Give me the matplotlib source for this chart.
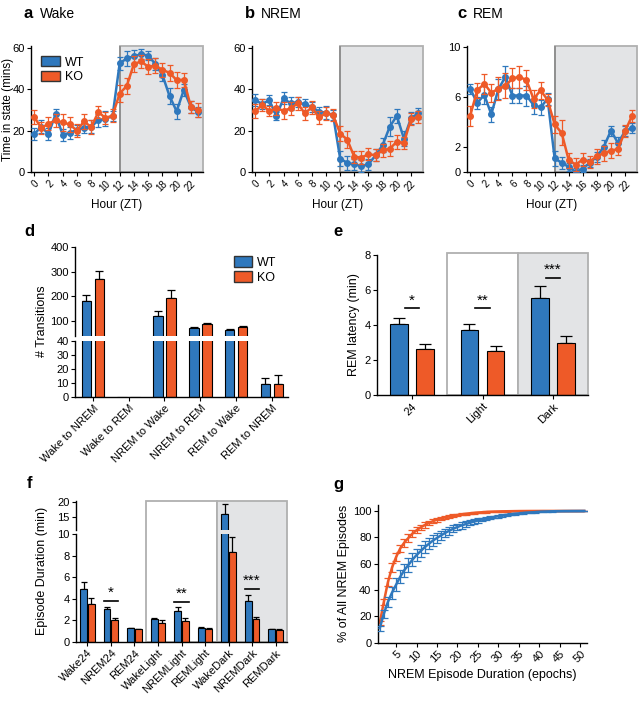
import numpy as np
import matplotlib
matplotlib.use('Agg')
import matplotlib.pyplot as plt
from matplotlib.patches import Rectangle, Patch

plt.rcParams['font.family'] = ['Liberation Sans', 'DejaVu Sans']
plt.rcParams['font.size'] = 8
plt.rcParams['axes.linewidth'] = 1.0
plt.rcParams['xtick.major.size'] = 3
plt.rcParams['ytick.major.size'] = 3
plt.rcParams['xtick.major.pad'] = 1.5
plt.rcParams['ytick.major.pad'] = 1.5

BLUE = '#2f78bd'
ORANGE = '#ee5a28'
DARK = '#e3e4e6'
EDGE = '#b0b0b0'

# ---- data -----------------------------------------------------------------
hours = list(range(24))

wake_wt = [18.3, 22, 18.3, 28, 18, 19, 20.4, 21.3, 22, 25, 25.8, 27,
           52.6, 55, 56, 57, 56.4, 52.3, 47, 36.8, 29.4, 39.7, 31.5, 29]
wake_wt_err = [3, 3, 3, 2.5, 3, 3, 2.5, 2.5, 3, 3, 3.5, 2.5,
               3, 3.5, 3, 2.5, 2, 3, 3, 4, 3.5, 3, 3, 2.5]
wake_ko = [26.6, 21.3, 23.4, 25, 24, 23, 20, 24.5, 21.7, 29, 26.2, 27.3,
           38, 41.7, 52.3, 53.5, 51, 51.5, 49.5, 48, 44.5, 44.6, 31.5, 30]
wake_ko_err = [3.5, 3, 3, 3, 4, 3.5, 3, 3.5, 3.5, 3, 3, 3,
               4, 4, 4, 3, 3.5, 3.5, 3.5, 4, 4, 3.5, 3, 3.5]

nrem_wt = [34.8, 32.9, 34.8, 27, 35.7, 33.2, 33.9, 32.7, 31.6, 29.2, 28.8, 27.6,
           6.5, 4.4, 3.7, 2.9, 3.7, 8.1, 13, 21.9, 27.2, 16.2, 26, 28.4]
nrem_wt_err = [3, 2.5, 2.5, 2, 3, 3, 2.5, 2.5, 2.5, 2.5, 3, 2.5,
               3.5, 3.5, 2.5, 3, 2.5, 3, 3.5, 4.5, 3.5, 3.5, 3, 2.5]
nrem_ko = [29.5, 32.4, 29.5, 30.8, 29.7, 30.8, 33.2, 28.4, 31.3, 26.4, 28.4, 27.6,
           18.6, 15.7, 7.3, 7, 8.6, 8.1, 10.5, 11.3, 14.6, 14.1, 25.6, 26.7]
nrem_ko_err = [3.5, 3, 2.5, 3, 4, 3, 3, 3, 3, 3, 3, 3,
               3.5, 4, 3, 3, 3, 3, 3, 3.5, 3.5, 3, 3, 3]

rem_wt = [6.68, 5.53, 6.19, 4.63, 6.62, 7.63, 6.13, 6.13, 6.13, 5.37, 5.18, 5.86,
          1.09, 0.74, 0.41, 0.0, 0.27, 0.74, 1.23, 2.04, 3.32, 2.32, 3.27, 3.54]
rem_wt_err = [0.4, 0.5, 0.7, 0.6, 0.8, 0.9, 0.6, 0.6, 0.8, 0.7, 0.6, 0.5,
              0.6, 0.5, 0.3, 0.3, 0.3, 0.3, 0.4, 0.5, 0.4, 0.5, 0.4, 0.4]
rem_ko = [4.5, 6.54, 7.08, 6.35, 6.68, 6.9, 7.5, 7.63, 7.36, 5.86, 6.54, 5.78,
          3.81, 3.13, 0.95, 0.6, 1.0, 0.82, 1.28, 1.5, 1.72, 1.83, 3.27, 4.5]
rem_ko_err = [0.8, 0.6, 0.8, 0.7, 0.9, 1.0, 0.8, 0.9, 0.8, 0.7, 0.7, 0.5,
              0.7, 1.0, 0.6, 0.5, 0.5, 0.5, 0.6, 0.6, 0.6, 0.5, 0.5, 0.5]

trans_labels = ['Wake to NREM', 'Wake to REM', 'NREM to Wake',
                'NREM to REM', 'REM to Wake', 'REM to NREM']
trans_wt = [182, 0, 121, 73, 64, 9.4]
trans_wt_err = [24, 0, 20, 2, 3, 4.3]
trans_ko = [271, 0, 193, 87, 77, 9.0]
trans_ko_err = [33, 0, 31, 5, 4, 6.8]

lat_labels = ['24', 'Light', 'Dark']
lat_wt = [4.04, 3.73, 5.52]
lat_wt_err = [0.34, 0.33, 0.71]
lat_ko = [2.65, 2.53, 2.99]
lat_ko_err = [0.28, 0.29, 0.40]
lat_sig = ['*', '**', '***']
lat_sig_y = [4.95, 4.95, 6.7]

dur_labels = ['Wake24', 'NREM24', 'REM24', 'WakeLight', 'NREMLight',
              'REMLight', 'WakeDark', 'NREMDark', 'REMDark']
dur_wt = [4.9, 3.0, 1.25, 2.09, 2.89, 1.3, 16.0, 3.79, 1.18]
dur_wt_err = [0.63, 0.26, 0.05, 0.16, 0.31, 0.05, 3.5, 0.53, 0.04]
dur_ko = [3.54, 1.99, 1.15, 1.77, 1.96, 1.2, 8.32, 2.11, 1.12]
dur_ko_err = [0.56, 0.25, 0.05, 0.28, 0.24, 0.05, 1.46, 0.22, 0.05]
dur_sig_idx = [1, 4, 7]
dur_sig = ['*', '**', '***']
dur_sig_y = [3.82, 3.67, 4.9]

epochs = list(range(1, 52))
cum_ko = [15, 31, 46, 57, 65, 71.5, 76, 79.5, 82.8, 85.3, 87.5, 89.3, 90.8,
          92.2, 93.4, 94.3, 95.1, 95.8, 96.4, 96.9, 97.4, 97.8, 98.2, 98.5,
          98.8, 99.0, 99.2, 99.35, 99.5, 99.6, 99.7, 99.75, 99.8, 99.85, 99.9,
          99.92, 99.94, 99.96, 99.97, 99.98, 100, 100, 100, 100, 100, 100,
          100, 100, 100, 100, 100]
cum_ko_err = [1.5, 2.5, 3, 3.2, 3.2, 3, 3, 2.8, 2.6, 2.4, 2.2, 2, 1.8, 1.6,
              1.5, 1.3, 1.2, 1.1, 1, 0.9, 0.8, 0.7, 0.6, 0.5, 0.5, 0.4, 0.4,
              0.3, 0.3, 0.3, 0.2, 0.2, 0.2, 0.2, 0.1, 0.1, 0.1, 0.1, 0.1, 0.1,
              0, 0, 0, 0, 0, 0, 0, 0, 0, 0, 0]
cum_wt = [11, 22, 31, 38, 44, 50, 55, 59, 63, 66.5, 69.5, 72.5, 75, 77.5,
          79.5, 81.5, 83.3, 85, 86.5, 87.8, 89, 90, 91, 91.9, 92.7, 93.5, 94.2,
          94.8, 95.4, 96, 96.5, 97, 97.4, 97.8, 98.1, 98.4, 98.7, 98.9, 99.1,
          99.3, 99.45, 99.6, 99.7, 99.8, 99.85, 99.9, 99.93, 99.96, 99.98,
          100, 100]
cum_wt_err = [2, 3, 4, 4.5, 5, 5, 5, 5, 5, 4.8, 4.6, 4.4, 4.2, 4, 3.8, 3.5,
              3.2, 3, 2.8, 2.6, 2.4, 2.2, 2, 1.8, 1.6, 1.5, 1.4, 1.2, 1.1, 1,
              0.9, 0.8, 0.7, 0.6, 0.5, 0.5, 0.4, 0.4, 0.3, 0.3, 0.2, 0.2, 0.2,
              0.1, 0.1, 0.1, 0.1, 0, 0, 0, 0]

# ---- layout helpers ---------------------------------------------------------
W, H = 640, 701
fig = plt.figure(figsize=(6.4, 7.01), dpi=100)


def box(l, t, r, b):
    return [l / W, 1 - b / H, (r - l) / W, (b - t) / H]


def ftext(x, y, s, **kw):
    fig.text(x / W, 1 - y / H, s, **kw)


def clean(ax):
    ax.spines['top'].set_visible(False)
    ax.spines['right'].set_visible(False)


def hourly(rect, wt, wt_err, ko, ko_err, ymax, yticks):
    ax = fig.add_axes(rect)
    xr = 23.7
    ax.set_xlim(-0.45, xr)
    ax.set_ylim(0, ymax)
    ax.add_patch(Rectangle((12, 0), xr - 12, ymax, fc=DARK, ec=EDGE, lw=1.3,
                           zorder=0, clip_on=False))
    ax.plot([12, 12], [0, ymax], color='#8a8a8a', lw=1.2, zorder=1)
    ax.errorbar(hours, wt, yerr=wt_err, color=BLUE, marker='o', ms=4, lw=1.8,
                capsize=2.5, elinewidth=0.9, capthick=0.9, zorder=3)
    ax.errorbar(hours, ko, yerr=ko_err, color=ORANGE, marker='o', ms=4, lw=1.8,
                capsize=2.5, elinewidth=0.9, capthick=0.9, zorder=4)
    clean(ax)
    ax.set_xticks(range(0, 24, 2))
    ax.set_xticklabels([str(h) for h in range(0, 24, 2)], rotation=45,
                       ha='right', rotation_mode='anchor', fontsize=7)
    ax.set_yticks(yticks)
    ax.set_xlabel('Hour (ZT)', fontsize=8.5, labelpad=4)
    return ax


# ---- a, b, c ---------------------------------------------------------------
ax_a = hourly(box(31, 46, 203, 172), wake_wt, wake_wt_err, wake_ko, wake_ko_err,
              61, [0, 20, 40, 60])
ax_a.set_ylabel('Time in state (mins)', fontsize=8.5)
ax_a.yaxis.set_label_coords(-0.10, 0.5)
ax_a.legend(handles=[Patch(fc=BLUE, ec='#333333', label='WT'),
                     Patch(fc=ORANGE, ec='#333333', label='KO')],
            loc='upper left', bbox_to_anchor=(0.0, 1.0), frameon=False,
            fontsize=9, handlelength=1.5, handleheight=0.9, labelspacing=0.2,
            handletextpad=0.4, borderaxespad=0.4)
hourly(box(252, 46, 423, 172), nrem_wt, nrem_wt_err, nrem_ko, nrem_ko_err,
       61, [0, 20, 40, 60])
hourly(box(467, 46, 637, 172), rem_wt, rem_wt_err, rem_ko, rem_ko_err,
       10.1, [0, 2, 6, 10])

for x, lab, t in [(24, 'a', 'Wake'), (245, 'b', 'NREM'), (457, 'c', 'REM')]:
    ftext(x, 14, lab, fontsize=12, fontweight='bold', va='center')
    ftext(x + 16, 14, t, fontsize=10, va='center')

# ---- d ---------------------------------------------------------------------
xd = np.arange(len(trans_labels))
bw = 0.27
ax_dlo = fig.add_axes(box(75, 341, 288, 396.7))
ax_dhi = fig.add_axes(box(75, 246.7, 288, 336))
for ax in (ax_dlo, ax_dhi):
    ax.bar(xd - 0.18, trans_wt, bw, color=BLUE, ec='black', lw=0.8, zorder=2)
    ax.bar(xd + 0.18, trans_ko, bw, color=ORANGE, ec='black', lw=0.8, zorder=2)
    for i in range(len(xd)):
        if trans_wt[i] > 0:
            ax.errorbar(xd[i] - 0.18, trans_wt[i], yerr=[[0], [trans_wt_err[i]]],
                        color='black', lw=0.9, capsize=3, capthick=0.9, zorder=1)
        if trans_ko[i] > 0:
            ax.errorbar(xd[i] + 0.18, trans_ko[i], yerr=[[0], [trans_ko_err[i]]],
                        color='black', lw=0.9, capsize=3, capthick=0.9, zorder=1)
    ax.set_xlim(-0.5, 5.45)
    clean(ax)
ax_dlo.set_ylim(0, 40)
ax_dlo.set_yticks([0, 10, 20, 30, 40])
ax_dlo.set_xticks(xd)
ax_dlo.set_xticklabels(trans_labels, rotation=45, ha='right',
                       rotation_mode='anchor', fontsize=8)
ax_dhi.set_ylim(40, 400)
ax_dhi.set_yticks([100, 200, 300, 400])
ax_dhi.spines['bottom'].set_visible(False)
ax_dhi.set_xticks([])
ax_dhi.legend(handles=[Patch(fc=BLUE, ec='#333333', label='WT'),
                       Patch(fc=ORANGE, ec='#333333', label='KO')],
              loc='upper right', bbox_to_anchor=(1.0, 1.02), frameon=False,
              fontsize=9, handlelength=1.5, handleheight=0.9, labelspacing=0.2,
              handletextpad=0.4)
ftext(42, 321, '# Transitions', rotation=90, fontsize=9, ha='center', va='center')
ftext(24, 232, 'd', fontsize=12, fontweight='bold', va='center')

# ---- e ---------------------------------------------------------------------
xe = np.arange(len(lat_labels))
ax_e = fig.add_axes(box(376.7, 255, 588.3, 395))
ax_e.set_xlim(-0.5, 2.5)
ax_e.set_ylim(0, 8)
ax_e.add_patch(Rectangle((0.5, 0), 1.0, 8.1, fc='white', ec=EDGE, lw=1.3,
                         clip_on=False, zorder=0))
ax_e.add_patch(Rectangle((1.5, 0), 1.0, 8.1, fc=DARK, ec=EDGE, lw=1.3,
                         clip_on=False, zorder=0))
ax_e.bar(xe - 0.185, lat_wt, 0.25, color=BLUE, ec='black', lw=0.8, zorder=2)
ax_e.bar(xe + 0.185, lat_ko, 0.25, color=ORANGE, ec='black', lw=0.8, zorder=2)
ax_e.errorbar(xe - 0.185, lat_wt, yerr=[np.zeros(3), lat_wt_err], fmt='none',
              ecolor='black', elinewidth=0.9, capsize=4, capthick=0.9, zorder=1)
ax_e.errorbar(xe + 0.185, lat_ko, yerr=[np.zeros(3), lat_ko_err], fmt='none',
              ecolor='black', elinewidth=0.9, capsize=4, capthick=0.9, zorder=1)
for i, (s, y) in enumerate(zip(lat_sig, lat_sig_y)):
    ax_e.plot([xe[i] - 0.1, xe[i] + 0.1], [y, y], color='black', lw=1.2, zorder=3)
    ax_e.text(xe[i], y + 0.05, s, ha='center', va='bottom', fontsize=11)
clean(ax_e)
ax_e.set_xticks(xe)
ax_e.set_xticklabels(lat_labels, rotation=45, ha='right', rotation_mode='anchor',
                     fontsize=8)
ax_e.set_yticks([0, 2, 4, 6, 8])
ax_e.set_ylabel('REM latency (min)', fontsize=9, labelpad=3)
ftext(333, 232, 'e', fontsize=12, fontweight='bold', va='center')

# ---- f ---------------------------------------------------------------------
xf = np.arange(len(dur_labels))
ax_fbg = fig.add_axes(box(75.7, 500.7, 287.3, 641.7))
ax_fbg.set_xlim(-0.5, 8.5)
ax_fbg.set_ylim(0, 1)
ax_fbg.axis('off')
ax_fbg.add_patch(Rectangle((2.5, 0), 3.0, 1, fc='white', ec=EDGE, lw=1.3,
                           clip_on=False))
ax_fbg.add_patch(Rectangle((5.5, 0), 3.0, 1, fc=DARK, ec=EDGE, lw=1.3,
                           clip_on=False))
ax_flo = fig.add_axes(box(75.7, 534.3, 287.3, 641.7))
ax_fhi = fig.add_axes(box(75.7, 501, 287.3, 530))
for ax in (ax_flo, ax_fhi):
    ax.patch.set_alpha(0)
    ax.bar(xf - 0.165, dur_wt, 0.29, color=BLUE, ec='black', lw=0.8, zorder=2)
    ax.bar(xf + 0.165, dur_ko, 0.29, color=ORANGE, ec='black', lw=0.8, zorder=2)
    ax.errorbar(xf - 0.165, dur_wt, yerr=[np.zeros(9), dur_wt_err], fmt='none',
                ecolor='black', elinewidth=0.9, capsize=2.5, capthick=0.9, zorder=1)
    ax.errorbar(xf + 0.165, dur_ko, yerr=[np.zeros(9), dur_ko_err], fmt='none',
                ecolor='black', elinewidth=0.9, capsize=2.5, capthick=0.9, zorder=1)
    ax.set_xlim(-0.5, 8.5)
    clean(ax)
ax_flo.set_ylim(0, 10)
ax_flo.set_yticks([0, 2, 4, 6, 8, 10])
ax_flo.set_xticks(xf)
ax_flo.set_xticklabels(dur_labels, rotation=45, ha='right',
                       rotation_mode='anchor', fontsize=8)
for i, s, y in zip(dur_sig_idx, dur_sig, dur_sig_y):
    ax_flo.plot([xf[i] - 0.3, xf[i] + 0.3], [y, y], color='black', lw=1.2, zorder=3)
    ax_flo.text(xf[i], y + 0.1, s, ha='center', va='bottom', fontsize=11)
ax_fhi.set_ylim(10.7, 20.4)
ax_fhi.set_yticks([15, 20])
ax_fhi.spines['bottom'].set_visible(False)
ax_fhi.set_xticks([])
ftext(42, 571, 'Episode Duration (min)', rotation=90, fontsize=9,
      ha='center', va='center')
ftext(27, 483, 'f', fontsize=12, fontweight='bold', va='center')

# ---- g ---------------------------------------------------------------------
ax_g = fig.add_axes(box(377.7, 505, 586.7, 642.7))
ax_g.errorbar(epochs, cum_ko, yerr=cum_ko_err, color=ORANGE, lw=1.8,
              elinewidth=0.9, capsize=3, capthick=0.9, zorder=2)
ax_g.errorbar(epochs, cum_wt, yerr=cum_wt_err, color=BLUE, lw=1.8,
              elinewidth=0.9, capsize=3, capthick=0.9, zorder=3)
ax_g.set_xlim(0.5, 51.6)
ax_g.set_ylim(0, 104.5)
clean(ax_g)
ax_g.set_xticks(range(5, 51, 5))
ax_g.set_xticklabels([str(v) for v in range(5, 51, 5)], rotation=45,
                     ha='right', rotation_mode='anchor', fontsize=8)
ax_g.set_yticks(range(0, 101, 20))
ax_g.set_xlabel('NREM Episode Duration (epochs)', fontsize=9, labelpad=3)
ax_g.set_ylabel('% of All NREM Episodes', fontsize=9, labelpad=2)
ftext(333, 485, 'g', fontsize=12, fontweight='bold', va='center')

fig.savefig('out.png', dpi=100)
